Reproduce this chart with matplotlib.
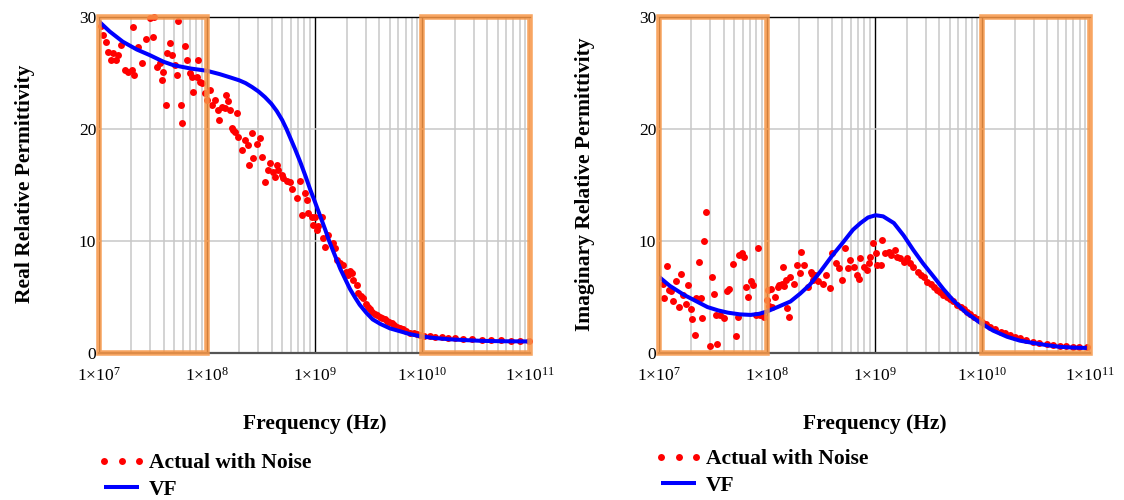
import numpy as np
import matplotlib
matplotlib.use("Agg")
import matplotlib.pyplot as plt
from matplotlib.patches import Rectangle
from matplotlib.ticker import FixedLocator, FixedFormatter, LogLocator, NullFormatter
from matplotlib.legend_handler import HandlerLine2D

plt.rcParams["font.family"] = ["Liberation Serif", "DejaVu Serif"]

# ---- data (frequencies given as log10 of Hz) ----
re_noise_logf = [7.019, 7.037, 7.065, 7.084, 7.111, 7.130, 7.158, 7.176, 7.204, 7.241,
                 7.269, 7.306, 7.316, 7.325, 7.362, 7.399, 7.436, 7.473, 7.501, 7.510,
                 7.538, 7.566, 7.585, 7.594, 7.622, 7.631, 7.659, 7.677, 7.705, 7.724,
                 7.733, 7.761, 7.770, 7.798, 7.817, 7.845, 7.863, 7.872, 7.910, 7.919,
                 7.937, 7.956, 7.984, 8.002, 8.030, 8.049, 8.077, 8.104, 8.114, 8.142,
                 8.169, 8.179, 8.197, 8.216, 8.234, 8.244, 8.262, 8.281, 8.290, 8.327,
                 8.355, 8.383, 8.392, 8.420, 8.429, 8.466, 8.494, 8.513, 8.541, 8.568,
                 8.587, 8.615, 8.633, 8.652, 8.661, 8.698, 8.708, 8.745, 8.773, 8.791,
                 8.838, 8.865, 8.884, 8.912, 8.930, 8.940, 8.977, 8.986, 9.005, 9.023,
                 9.032, 9.070, 9.079, 9.097, 9.125, 9.172, 9.190, 9.209, 9.235, 9.264,
                 9.290, 9.311, 9.329, 9.348, 9.357, 9.394, 9.404, 9.430, 9.450, 9.475,
                 9.497, 9.515, 9.534, 9.560, 9.580, 9.605, 9.626, 9.650, 9.673, 9.695,
                 9.719, 9.740, 9.766, 9.790, 9.821, 9.850, 9.886, 9.920, 9.951, 9.980,
                 10.02, 10.07, 10.12, 10.18, 10.24, 10.30, 10.38, 10.46, 10.55, 10.64,
                 10.73, 10.82, 10.91, 10.99]
re_noise_val = [29.2, 28.4, 27.8, 26.9, 26.2, 26.8, 26.2, 26.6, 27.5, 25.3,
                25.1, 25.3, 29.1, 24.8, 27.3, 25.9, 28.0, 29.9, 28.2, 30.0,
                25.5, 25.9, 24.4, 25.1, 22.1, 26.8, 27.7, 26.6, 25.7, 24.8,
                29.6, 22.1, 20.5, 27.4, 26.2, 25.0, 24.6, 23.3, 24.6, 26.2,
                24.2, 24.1, 23.2, 22.6, 23.5, 22.1, 22.6, 21.7, 20.8, 22.0,
                21.9, 23.0, 22.5, 21.7, 20.1, 19.9, 19.7, 21.4, 19.3, 18.1,
                19.0, 18.6, 16.8, 19.6, 17.4, 18.7, 19.2, 17.5, 15.3, 16.3,
                17.0, 16.2, 15.7, 16.8, 16.3, 15.9, 15.6, 15.4, 15.3, 14.6,
                13.8, 15.4, 12.3, 14.3, 13.7, 12.5, 12.1, 11.4, 12.1, 11.0,
                11.3, 12.1, 10.3, 9.5, 10.5, 9.8, 9.4, 8.3, 8.0, 7.9,
                7.2, 7.0, 7.3, 7.1, 6.5, 6.1, 5.4, 5.1, 4.9, 4.4,
                4.1, 3.9, 3.7, 3.5, 3.4, 3.2, 3.1, 3.0, 2.9, 2.8,
                2.7, 2.5, 2.3, 2.2, 2.1, 1.95, 1.8, 1.75, 1.7, 1.6,
                1.55, 1.5, 1.45, 1.4, 1.38, 1.32, 1.28, 1.22, 1.2, 1.16,
                1.13, 1.1, 1.08, 1.06]

re_fit_logf = [7.00, 7.10, 7.22, 7.35, 7.47, 7.60, 7.69, 7.85, 8.00, 8.12,
               8.22, 8.30, 8.36, 8.42, 8.48, 8.54, 8.60, 8.65, 8.70, 8.74,
               8.78, 8.82, 8.87, 8.92, 8.96, 9.00, 9.05, 9.10, 9.14, 9.19,
               9.24, 9.29, 9.33, 9.38, 9.42, 9.48, 9.54, 9.61, 9.70, 9.79,
               9.88, 9.98, 10.10, 10.26, 10.40, 10.56, 10.75, 11.00]
re_fit_val = [29.6, 28.7, 27.8, 27.1, 26.6, 26.0, 25.7, 25.4, 25.2, 24.9,
              24.6, 24.35, 24.1, 23.75, 23.35, 22.85, 22.25, 21.6, 20.8, 20.0,
              19.1, 18.2, 17.0, 15.7, 14.6, 13.6, 12.3, 11.0, 9.9, 8.7,
              7.5, 6.5, 5.7, 4.9, 4.3, 3.6, 3.0, 2.6, 2.2, 1.95,
              1.7, 1.5, 1.35, 1.22, 1.15, 1.08, 1.05, 1.03]

im_noise_logf = [7.034, 7.050, 7.070, 7.090, 7.110, 7.130, 7.160, 7.190, 7.200, 7.220,
                 7.250, 7.270, 7.300, 7.305, 7.330, 7.340, 7.370, 7.390, 7.400, 7.420,
                 7.440, 7.470, 7.490, 7.510, 7.530, 7.540, 7.570, 7.600, 7.630, 7.650,
                 7.690, 7.710, 7.730, 7.740, 7.770, 7.790, 7.810, 7.830, 7.850, 7.870,
                 7.900, 7.920, 7.940, 7.970, 8.000, 8.010, 8.020, 8.040, 8.045, 8.080,
                 8.100, 8.110, 8.140, 8.150, 8.160, 8.180, 8.190, 8.210, 8.220, 8.250,
                 8.280, 8.310, 8.320, 8.350, 8.380, 8.410, 8.420, 8.430, 8.450, 8.480,
                 8.520, 8.550, 8.590, 8.610, 8.640, 8.670, 8.700, 8.730, 8.750, 8.770,
                 8.810, 8.840, 8.860, 8.870, 8.900, 8.930, 8.950, 8.960, 8.990, 9.010,
                 9.020, 9.060, 9.070, 9.100, 9.130, 9.150, 9.190, 9.210, 9.240, 9.270,
                 9.300, 9.330, 9.360, 9.400, 9.430, 9.460, 9.490, 9.520, 9.550, 9.580,
                 9.610, 9.640, 9.670, 9.700, 9.730, 9.770, 9.800, 9.830, 9.860, 9.890,
                 9.920, 9.960, 10.000, 10.035, 10.070, 10.120, 10.170, 10.215, 10.260, 10.305,
                 10.350, 10.410, 10.470, 10.530, 10.600, 10.660, 10.720, 10.780, 10.840, 10.900,
                 10.970]
im_noise_val = [6.2, 4.9, 7.8, 5.6, 5.5, 4.6, 6.4, 4.1, 7.05, 5.2,
                4.4, 6.1, 3.9, 3.0, 1.6, 4.9, 8.1, 4.9, 3.15, 10.0,
                12.6, 0.6, 6.75, 5.3, 3.4, 0.8, 3.4, 3.1, 5.5, 5.7,
                7.95, 1.55, 3.25, 8.75, 8.9, 8.55, 5.9, 5.0, 6.4, 6.1,
                3.4, 9.35, 3.4, 3.25, 4.7, 5.6, 4.2, 5.7, 4.1, 5.0,
                5.9, 6.1, 6.2, 7.65, 6.0, 6.5, 4.0, 3.2, 6.75, 6.2,
                7.85, 7.1, 9.05, 7.85, 5.9, 7.25, 7.05, 6.5, 6.95, 6.4,
                6.2, 6.95, 5.8, 8.9, 8.0, 7.55, 6.5, 9.35, 7.55, 8.3,
                7.7, 6.95, 6.65, 8.45, 7.7, 7.4, 8.0, 8.6, 9.8, 8.9,
                7.85, 7.85, 10.1, 8.9, 9.05, 8.75, 9.2, 8.6, 8.45, 8.15,
                8.45, 8.0, 7.7, 7.25, 6.95, 6.8, 6.35, 6.2, 5.9, 5.6,
                5.45, 5.2, 5.0, 4.8, 4.6, 4.3, 4.1, 3.9, 3.7, 3.45,
                3.25, 3.0, 2.8, 2.55, 2.35, 2.1, 1.9, 1.75, 1.6, 1.45,
                1.3, 1.15, 1.0, 0.9, 0.8, 0.72, 0.65, 0.6, 0.56, 0.52,
                0.5]

im_fit_logf = [7.00, 7.10, 7.23, 7.35, 7.45, 7.55, 7.64, 7.75, 7.85, 7.93,
               8.00, 8.10, 8.22, 8.31, 8.40, 8.50, 8.60, 8.71, 8.80, 8.87,
               8.94, 9.01, 9.08, 9.18, 9.27, 9.36, 9.45, 9.55, 9.64, 9.73,
               9.85, 9.98, 10.10, 10.23, 10.35, 10.47, 10.60, 10.72, 10.85, 10.97]
im_fit_val = [6.8, 6.0, 5.2, 4.6, 4.1, 3.8, 3.6, 3.45, 3.4, 3.5,
              3.7, 4.1, 4.6, 5.3, 6.1, 7.3, 8.6, 9.9, 11.0, 11.6,
              12.1, 12.3, 12.2, 11.6, 10.5, 9.2, 8.0, 6.8, 5.7, 4.7,
              3.6, 2.7, 2.0, 1.45, 1.1, 0.9, 0.7, 0.55, 0.48, 0.45]

x_tick_exps = [7, 8, 9, 10, 11]
x_tick_labels = [r"$\mathregular{1{\times}10^{%d}}$" % e for e in x_tick_exps]
y_ticks = [0, 10, 20, 30]
band_exps = [(7, 8), (10, 11)]
y_labels = ["Real Relative Permittivity", "Imaginary Relative Permittivity"]
series_names = ["Actual with Noise", "VF"]

RED = "#ff0000"
BLUE = "#0000ff"
ORANGE = "#f79646"
GRID = "#c8c8c8"

W, H = 1124, 500
fig = plt.figure(figsize=(W / 100, H / 100), dpi=100)

panels = [
    dict(rect=[99 / W, 1 - 353 / H, 431 / W, 336 / H],
         noise=(re_noise_logf, re_noise_val), fit=(re_fit_logf, re_fit_val),
         ylabel=y_labels[0], leg=(104 / W, 1 - 453 / H)),
    dict(rect=[659 / W, 1 - 353 / H, 431 / W, 336 / H],
         noise=(im_noise_logf, im_noise_val), fit=(im_fit_logf, im_fit_val),
         ylabel=y_labels[1], leg=(661 / W, 1 - 449 / H)),
]

for p in panels:
    ax = fig.add_axes(p["rect"])
    ax.set_xscale("log")
    ax.set_xlim(10.0 ** x_tick_exps[0], 10.0 ** x_tick_exps[-1])
    ax.set_ylim(y_ticks[0], y_ticks[-1])
    ax.set_axisbelow(True)

    # grid: light vertical lines for every log subdivision, dark decade lines
    ax.xaxis.set_major_locator(FixedLocator([10.0 ** e for e in x_tick_exps]))
    ax.xaxis.set_major_formatter(FixedFormatter(x_tick_labels))
    ax.xaxis.set_minor_locator(LogLocator(base=10, subs=np.arange(2, 10)))
    ax.xaxis.set_minor_formatter(NullFormatter())
    ax.yaxis.set_major_locator(FixedLocator(y_ticks))
    ax.grid(which="minor", axis="x", color=GRID, lw=1.1)
    ax.grid(which="major", axis="x", color="black", lw=1.0)
    ax.grid(which="major", axis="y", color=GRID, lw=1.1)

    ax.tick_params(which="both", length=0)
    ax.tick_params(axis="x", labelsize=12.5, pad=10)
    ax.tick_params(axis="y", labelsize=12.5, pad=2)

    for side in ("left", "right"):
        ax.spines[side].set_visible(False)
    ax.spines["top"].set_color("black")
    ax.spines["top"].set_linewidth(1.0)
    ax.spines["bottom"].set_color("#555555")
    ax.spines["bottom"].set_linewidth(1.6)

    nx = 10.0 ** np.asarray(p["noise"][0])
    fx = 10.0 ** np.asarray(p["fit"][0])
    pts, = ax.plot(nx, p["noise"][1], ls="none", marker="o", ms=5.0,
                   color=RED, mec="none", zorder=3, clip_on=False)
    line, = ax.plot(fx, p["fit"][1], color=BLUE, lw=2.9, zorder=4,
                    solid_capstyle="butt", solid_joinstyle="round")

    # highlighted frequency bands
    for lo, hi in band_exps:
        ax.add_patch(Rectangle((10.0 ** lo, y_ticks[0]), 10.0 ** hi - 10.0 ** lo,
                               y_ticks[-1] - y_ticks[0], fill=False,
                               edgecolor=ORANGE, lw=4.0, alpha=0.85,
                               zorder=5, clip_on=False))

    ax.text(-0.172, 0.503, p["ylabel"], transform=ax.transAxes, rotation=90,
            ha="center", va="center", fontsize=15.5, fontweight="bold")
    ax.text(0.5, -0.226, "Frequency (Hz)", transform=ax.transAxes,
            ha="center", va="baseline", fontsize=15.5, fontweight="bold")

    fig.legend([pts, line], series_names, loc="upper left",
               bbox_to_anchor=p["leg"], bbox_transform=fig.transFigure,
               frameon=False, numpoints=3, borderpad=0, borderaxespad=0,
               handlelength=1.63, handletextpad=0.45, labelspacing=0.3,
               prop={"size": 15.5, "weight": "bold"},
               handler_map={pts: HandlerLine2D(marker_pad=0.0),
                            line: HandlerLine2D(marker_pad=0.0)})

fig.savefig("out.png", dpi=100)
